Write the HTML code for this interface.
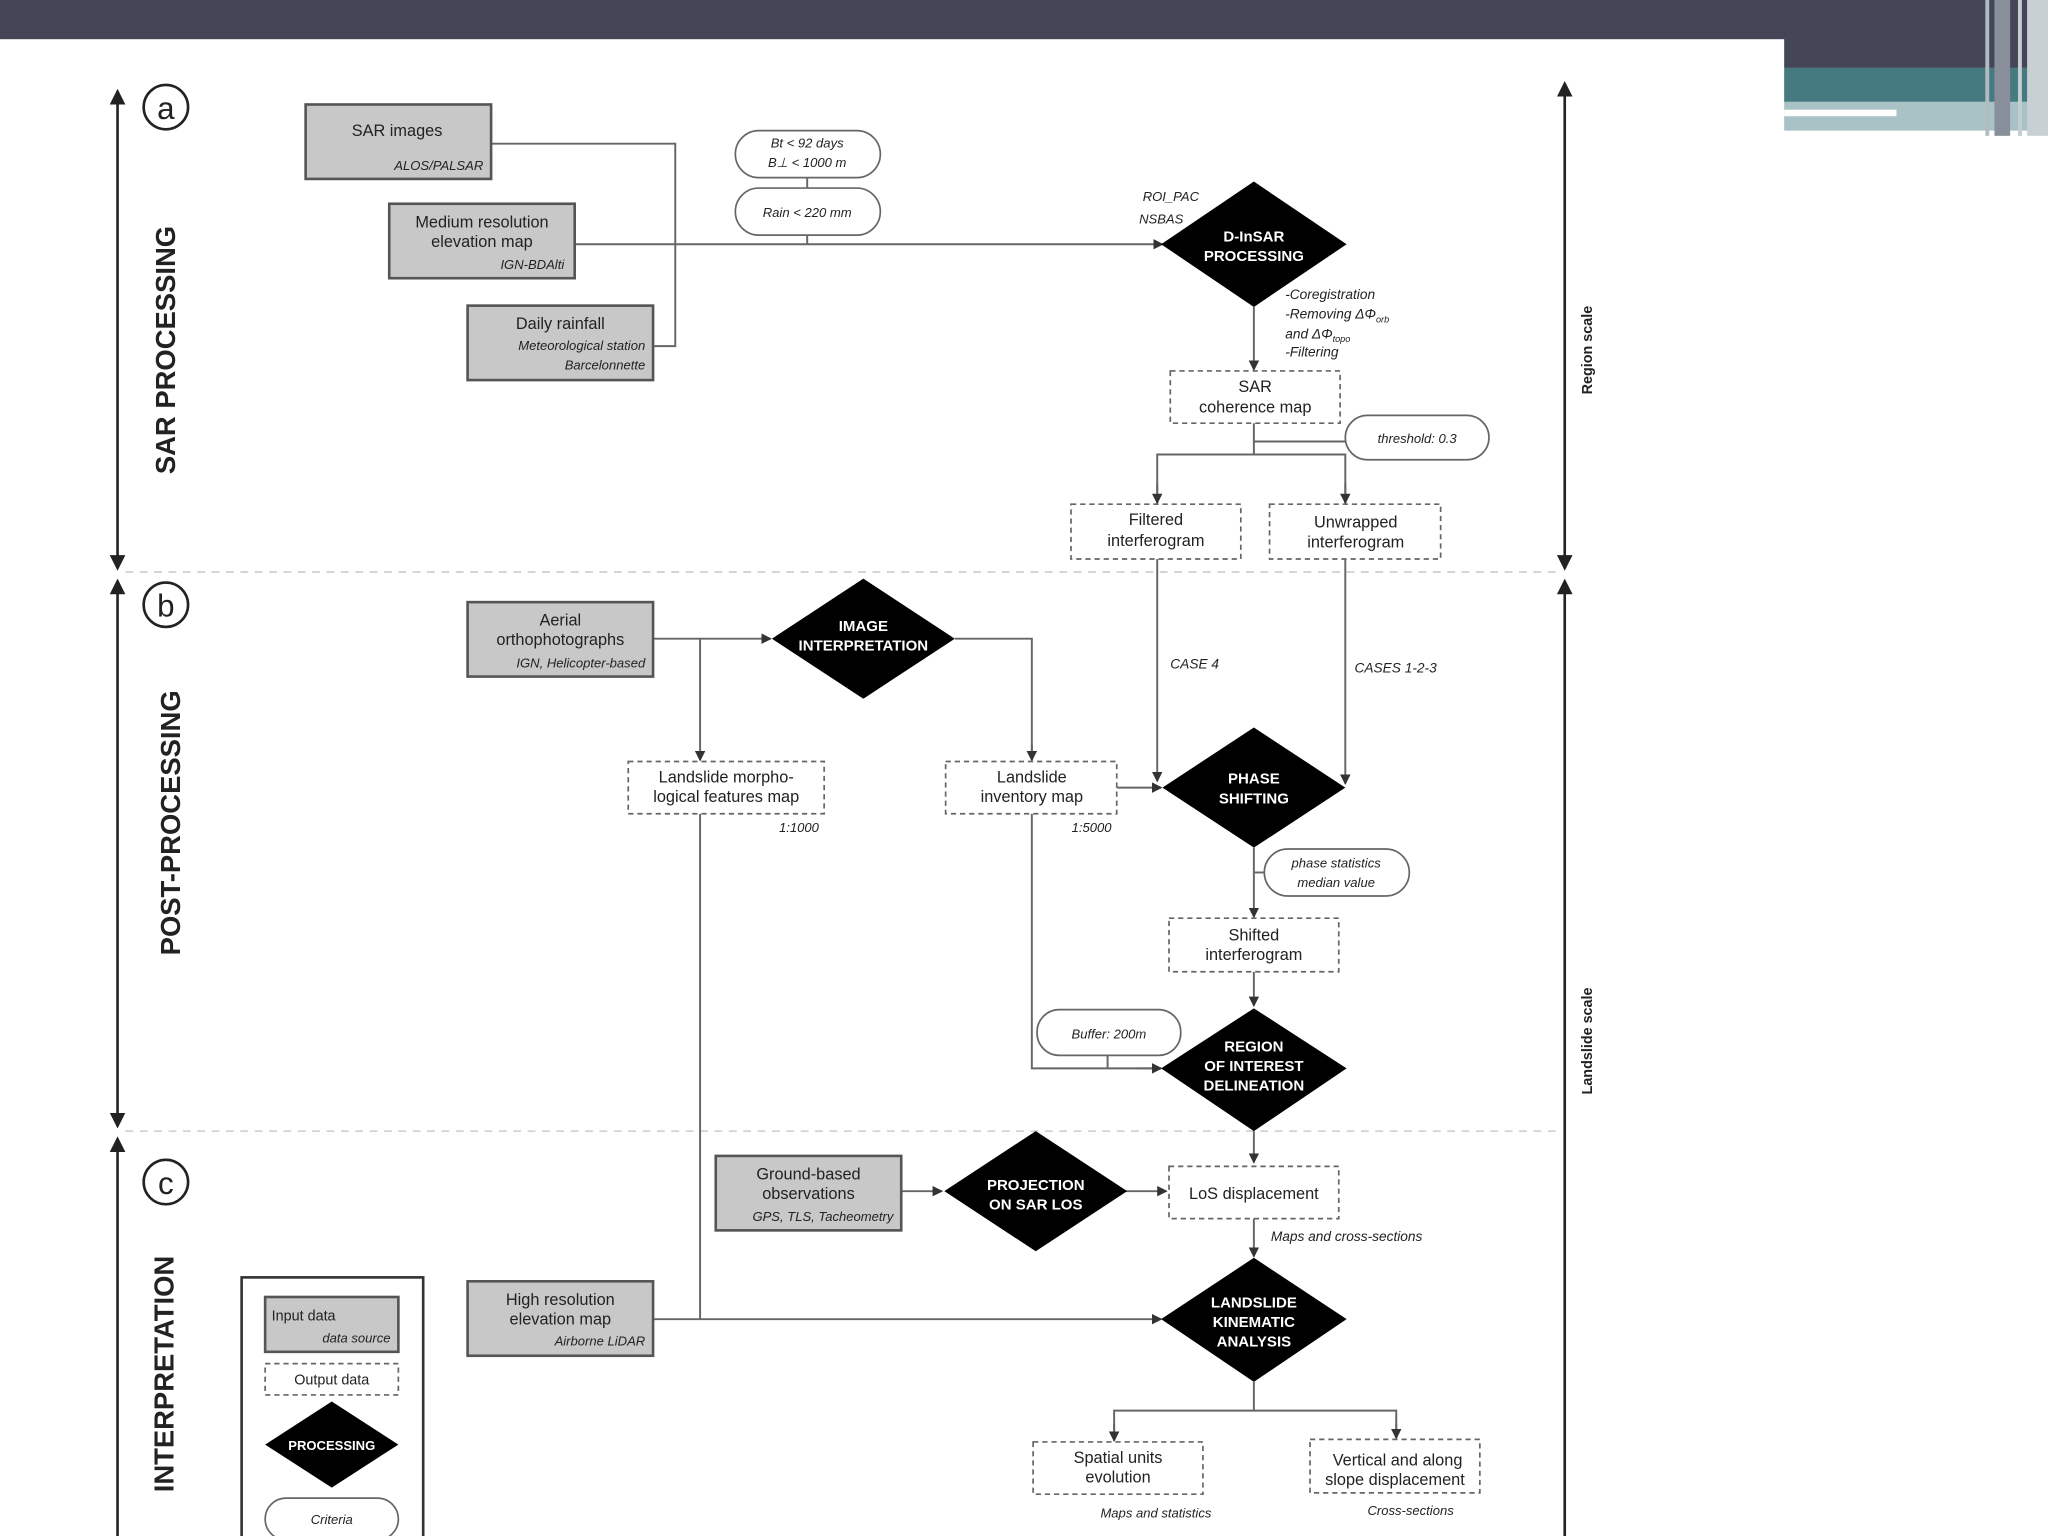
<!DOCTYPE html>
<html><head><meta charset="utf-8"><style>
html,body{margin:0;padding:0;background:#fff;width:2048px;height:1536px;overflow:hidden}
svg{display:block}
text{font-family:"Liberation Sans",sans-serif;fill:#222}
.t{font-size:12.5px;text-anchor:middle}
.i{font-size:10px;font-style:italic;text-anchor:end}
.ic{font-size:10px;font-style:italic;text-anchor:middle}
.w{fill:#fff;font-size:11.5px;font-weight:bold;text-anchor:middle}
.g{fill:#c8c8c8;stroke:#555;stroke-width:2}
.o{fill:#fff;stroke:#666;stroke-width:1.3;stroke-dasharray:4,3}
.p{fill:#fff;stroke:#666;stroke-width:1.3}
.l{fill:none;stroke:#666;stroke-width:1.5}
.d{fill:#000}
</style></head><body>
<svg width="2048" height="1536" viewBox="0 0 1568 1176" xmlns="http://www.w3.org/2000/svg">
<defs><marker id="a" markerWidth="8" markerHeight="8" refX="7" refY="4" orient="auto" markerUnits="userSpaceOnUse"><path d="M0,0 L8,4 L0,8z" fill="#333"/></marker>
<marker id="b" markerWidth="12" markerHeight="12" refX="10" refY="6" orient="auto-start-reverse" markerUnits="userSpaceOnUse"><path d="M0,0 L12,6 L0,12z" fill="#222"/></marker></defs>
<!-- header -->
<rect x="0" y="0" width="1568" height="30" fill="#454558"/>
<rect x="1366" y="0" width="202" height="52" fill="#454558"/>
<rect x="1366" y="52" width="202" height="26" fill="#457a80"/>
<rect x="1366" y="78" width="202" height="22" fill="#a8c2c6"/>
<rect x="1366" y="84" width="86" height="5" fill="#fff"/>
<rect x="1520" y="0" width="3" height="104" fill="#b0bcc0"/>
<rect x="1527" y="0" width="12" height="104" fill="#8a8f9c"/>
<rect x="1545" y="0" width="3" height="104" fill="#c4cdd0"/>
<rect x="1552" y="0" width="16" height="104" fill="#c8d0d4"/>
<!-- side arrows -->
<g stroke="#222" stroke-width="2">
<line x1="90" y1="70" x2="90" y2="435" marker-start="url(#b)" marker-end="url(#b)"/>
<line x1="90" y1="445" x2="90" y2="862" marker-start="url(#b)" marker-end="url(#b)"/>
<line x1="90" y1="872" x2="90" y2="1176" marker-start="url(#b)"/>
<line x1="1198" y1="64" x2="1198" y2="435" marker-start="url(#b)" marker-end="url(#b)"/>
<line x1="1198" y1="445" x2="1198" y2="1176" marker-start="url(#b)"/>
</g>
<g fill="none" stroke="#222" stroke-width="2"><circle cx="127" cy="82" r="17"/><circle cx="127" cy="463" r="17"/><circle cx="127" cy="905" r="17"/></g>
<text x="127" y="91" style="font-size:24px;text-anchor:middle">a</text>
<text x="127" y="472" style="font-size:24px;text-anchor:middle">b</text>
<text x="127" y="914" style="font-size:24px;text-anchor:middle">c</text>
<text transform="translate(134,268) rotate(-90)" style="font-size:21px;font-weight:bold;text-anchor:middle">SAR PROCESSING</text>
<text transform="translate(138,630) rotate(-90)" style="font-size:21px;font-weight:bold;text-anchor:middle">POST-PROCESSING</text>
<text transform="translate(133,1052) rotate(-90)" style="font-size:21px;font-weight:bold;text-anchor:middle">INTERPRETATION</text>
<text transform="translate(1219,268) rotate(-90)" style="font-size:11px;font-weight:bold;text-anchor:middle">Region scale</text>
<text transform="translate(1219,797) rotate(-90)" style="font-size:11px;font-weight:bold;text-anchor:middle">Landslide scale</text>
<g stroke="#ccc" stroke-width="1.2" stroke-dasharray="6,5"><line x1="96" y1="438" x2="1196" y2="438"/><line x1="96" y1="866" x2="1196" y2="866"/></g>
<!-- connectors -->
<g class="l">
<polyline points="376,110 517,110 517,265 500,265"/>
<line x1="440" y1="187" x2="890" y2="187" marker-end="url(#a)"/>
<line x1="618" y1="136" x2="618" y2="144"/><line x1="618" y1="180" x2="618" y2="187"/>
<line x1="960" y1="235" x2="960" y2="283" marker-end="url(#a)"/>
<line x1="960" y1="324" x2="960" y2="348"/><line x1="960" y1="338" x2="1030" y2="338"/>
<polyline points="886,386 886,348 1030,348 1030,386"/>
<line x1="886" y1="370" x2="886" y2="385" marker-end="url(#a)"/><line x1="1030" y1="370" x2="1030" y2="385" marker-end="url(#a)"/>
<line x1="886" y1="428" x2="886" y2="598" marker-end="url(#a)"/>
<line x1="1030" y1="428" x2="1030" y2="600" marker-end="url(#a)"/>
<line x1="500" y1="489" x2="590" y2="489" marker-end="url(#a)"/>
<line x1="536" y1="489" x2="536" y2="582" marker-end="url(#a)"/>
<polyline points="731,489 790,489 790,582"/><line x1="790" y1="570" x2="790" y2="582" marker-end="url(#a)"/>
<line x1="855" y1="603" x2="889" y2="603" marker-end="url(#a)"/>
<line x1="960" y1="649" x2="960" y2="702" marker-end="url(#a)"/>
<line x1="960" y1="668" x2="968" y2="668"/>
<line x1="960" y1="744" x2="960" y2="770" marker-end="url(#a)"/>
<polyline points="790,623 790,818 889,818"/><line x1="870" y1="818" x2="889" y2="818" marker-end="url(#a)"/>
<line x1="848" y1="808" x2="848" y2="818"/>
<line x1="960" y1="866" x2="960" y2="890" marker-end="url(#a)"/>
<line x1="690" y1="912" x2="721" y2="912" marker-end="url(#a)"/>
<line x1="862" y1="912" x2="893" y2="912" marker-end="url(#a)"/>
<line x1="960" y1="933" x2="960" y2="962" marker-end="url(#a)"/>
<line x1="536" y1="623" x2="536" y2="1010"/>
<line x1="500" y1="1010" x2="889" y2="1010" marker-end="url(#a)"/>
<line x1="960" y1="1058" x2="960" y2="1080"/>
<polyline points="853,1103 853,1080 1069,1080 1069,1101"/>
<line x1="853" y1="1090" x2="853" y2="1103" marker-end="url(#a)"/><line x1="1069" y1="1090" x2="1069" y2="1101" marker-end="url(#a)"/>
</g>
<!-- gray input boxes -->
<rect class="g" x="234" y="80" width="142" height="57"/>
<text class="t" x="304" y="104">SAR images</text><text class="i" x="370" y="130">ALOS/PALSAR</text>
<rect class="g" x="298" y="156" width="142" height="57"/>
<text class="t" x="369" y="174">Medium resolution</text><text class="t" x="369" y="189">elevation map</text><text class="i" x="432" y="206">IGN-BDAlti</text>
<rect class="g" x="358" y="234" width="142" height="57"/>
<text class="t" x="429" y="252">Daily rainfall</text><text class="i" x="494" y="268">Meteorological station</text><text class="i" x="494" y="283">Barcelonnette</text>
<rect class="g" x="358" y="461" width="142" height="57"/>
<text class="t" x="429" y="479">Aerial</text><text class="t" x="429" y="494">orthophotographs</text><text class="i" x="494" y="511">IGN, Helicopter-based</text>
<rect class="g" x="548" y="885" width="142" height="57"/>
<text class="t" x="619" y="903">Ground-based</text><text class="t" x="619" y="918">observations</text><text class="i" x="684" y="935">GPS, TLS, Tacheometry</text>
<rect class="g" x="358" y="981" width="142" height="57"/>
<text class="t" x="429" y="999">High resolution</text><text class="t" x="429" y="1014">elevation map</text><text class="i" x="494" y="1030">Airborne LiDAR</text>
<!-- output boxes -->
<rect class="o" x="896" y="284" width="130" height="40"/><text class="t" x="961" y="300">SAR</text><text class="t" x="961" y="316">coherence map</text>
<rect class="o" x="820" y="386" width="130" height="42"/><text class="t" x="885" y="402">Filtered</text><text class="t" x="885" y="418">interferogram</text>
<rect class="o" x="972" y="386" width="131" height="42"/><text class="t" x="1038" y="404">Unwrapped</text><text class="t" x="1038" y="419">interferogram</text>
<rect class="o" x="481" y="583" width="150" height="40"/><text class="t" x="556" y="599">Landslide morpho-</text><text class="t" x="556" y="614">logical features map</text>
<text class="i" x="627" y="637">1:1000</text>
<rect class="o" x="724" y="583" width="131" height="40"/><text class="t" x="790" y="599">Landslide</text><text class="t" x="790" y="614">inventory map</text>
<text class="i" x="851" y="637">1:5000</text>
<rect class="o" x="895" y="703" width="130" height="41"/><text class="t" x="960" y="720">Shifted</text><text class="t" x="960" y="735">interferogram</text>
<rect class="o" x="895" y="893" width="130" height="40"/><text class="t" x="960" y="918">LoS displacement</text>
<rect class="o" x="791" y="1104" width="130" height="40"/><text class="t" x="856" y="1120">Spatial units</text><text class="t" x="856" y="1135">evolution</text>
<rect class="o" x="1003" y="1102" width="130" height="41"/><text class="t" x="1070" y="1122">Vertical and along</text><text class="t" x="1068" y="1137">slope displacement</text>
<!-- diamonds -->
<polygon class="d" points="960,139 1031,187 960,235 889,187"/><text class="w" x="960" y="185">D-InSAR</text><text class="w" x="960" y="200">PROCESSING</text>
<polygon class="d" points="661,443 731,489 661,535 591,489"/><text class="w" x="661" y="483">IMAGE</text><text class="w" x="661" y="498">INTERPRETATION</text>
<polygon class="d" points="960,557 1030,603 960,649 890,603"/><text class="w" x="960" y="600">PHASE</text><text class="w" x="960" y="615">SHIFTING</text>
<polygon class="d" points="960,772 1031,818 960,866 889,818"/><text class="w" x="960" y="805">REGION</text><text class="w" x="960" y="820">OF INTEREST</text><text class="w" x="960" y="835">DELINEATION</text>
<polygon class="d" points="793,866 863,912 793,958 723,912"/><text class="w" x="793" y="911">PROJECTION</text><text class="w" x="793" y="926">ON SAR LOS</text>
<polygon class="d" points="960,963 1031,1010 960,1058 889,1010"/><text class="w" x="960" y="1001">LANDSLIDE</text><text class="w" x="960" y="1016">KINEMATIC</text><text class="w" x="960" y="1031">ANALYSIS</text>
<!-- pills -->
<rect class="p" x="563" y="100" width="111" height="36" rx="18"/><text class="ic" x="618" y="113">Bt &lt; 92 days</text><text class="ic" x="618" y="128">B⊥ &lt; 1000 m</text>
<rect class="p" x="563" y="144" width="111" height="36" rx="18"/><text class="ic" x="618" y="166">Rain &lt; 220 mm</text>
<rect class="p" x="1030" y="318" width="110" height="34" rx="17"/><text class="ic" x="1085" y="339">threshold: 0.3</text>
<rect class="p" x="968" y="650" width="111" height="36" rx="18"/><text class="ic" x="1023" y="664">phase statistics</text><text class="ic" x="1023" y="679">median value</text>
<rect class="p" x="794" y="773" width="110" height="35" rx="17"/><text class="ic" x="849" y="795">Buffer: 200m</text>
<!-- labels -->
<text class="i" x="918" y="154" style="text-anchor:end">ROI_PAC</text><text class="i" x="906" y="171">NSBAS</text>
<g style="font-size:10.5px;font-style:italic"><text x="984" y="229">-Coregistration</text><text x="984" y="244">-Removing ΔΦ<tspan style="font-size:7px" dy="3">orb</tspan></text><text x="984" y="259">and ΔΦ<tspan style="font-size:7px" dy="3">topo</tspan></text><text x="984" y="273">-Filtering</text></g>
<text x="896" y="512" style="font-size:10.5px;font-style:italic">CASE 4</text>
<text x="1037" y="515" style="font-size:10.5px;font-style:italic">CASES 1-2-3</text>
<text x="973" y="950" style="font-size:10.5px;font-style:italic">Maps and cross-sections</text>
<text class="ic" x="885" y="1162">Maps and statistics</text>
<text class="ic" x="1080" y="1160">Cross-sections</text>
<!-- legend -->
<rect x="185" y="978" width="139" height="200" fill="#fff" stroke="#333" stroke-width="2"/>
<rect class="g" x="203" y="993" width="102" height="42"/><text x="208" y="1011" style="font-size:11px">Input data</text><text class="i" x="299" y="1028">data source</text>
<rect class="o" x="203" y="1044" width="102" height="24"/><text class="t" x="254" y="1060" style="font-size:11px">Output data</text>
<polygon class="d" points="254,1073 305,1106 254,1139 203,1106"/><text class="w" x="254" y="1110" style="font-size:10px">PROCESSING</text>
<rect class="p" x="203" y="1147" width="102" height="32" rx="16"/><text class="ic" x="254" y="1167">Criteria</text>
</svg>
</body></html>
